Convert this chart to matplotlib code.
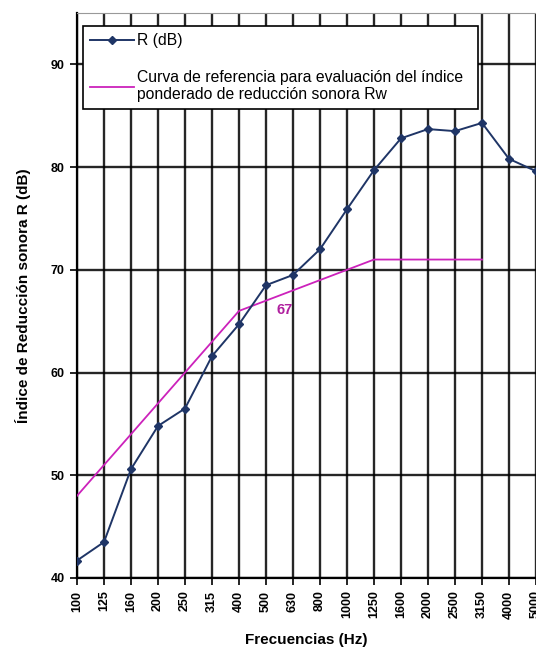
import numpy as np
import matplotlib
matplotlib.use('Agg')
import matplotlib.pyplot as plt

plt.rcParams['font.family'] = ['Liberation Sans', 'DejaVu Sans']

# Data
freqs = ['100', '125', '160', '200', '250', '315', '400', '500', '630', '800',
         '1000', '1250', '1600', '2000', '2500', '3150', '4000', '5000']
r_db = [41.7, 43.5, 50.6, 54.8, 56.5, 61.6, 64.7, 68.5, 69.5, 72.0,
        75.9, 79.7, 82.8, 83.7, 83.5, 84.3, 80.8, 79.6]
ref_curve = [48, 51, 54, 57, 60, 63, 66, 67, 68, 69, 70, 71, 71, 71, 71, 71]
rw_label = '67'

x = np.arange(len(freqs))

fig = plt.figure(figsize=(5.36, 6.51), dpi=100)
ax = fig.add_axes([77/536, 1 - 578/651, 1 - 77/536, (578 - 13)/651])

ax.plot(x, r_db, color='#1f3566', marker='D', markersize=4.5, linewidth=1.4,
        label='R (dB)', zorder=4)
ax.plot(x[:len(ref_curve)], ref_curve, color='#cc22bb', linewidth=1.3,
        label='Curva de referencia para evaluación del índice\nponderado de reducción sonora Rw', zorder=3)
ax.text(x[7] + 0.7, 66.8, rw_label, color='#b0209f', fontsize=10.5, fontweight='bold',
        ha='center', va='top', zorder=5)

ax.set_xlim(0, 16.87)
ax.set_ylim(40, 95)
ax.set_xticks(x)
ax.set_xticklabels(freqs, rotation=90, fontsize=9, fontweight='bold')
ax.set_yticks(np.arange(40, 91, 10))
ax.set_yticklabels([str(v) for v in range(40, 91, 10)], fontsize=9, fontweight='bold')
ax.tick_params(length=5, width=1.2, direction='out', pad=4)

ax.grid(True, color='black', linewidth=1.7, alpha=0.85)
ax.set_axisbelow(True)
for s in ['left', 'bottom']:
    ax.spines[s].set_linewidth(1.6)
ax.spines['top'].set_color('#999999')
ax.spines['right'].set_visible(False)

ax.set_xlabel('Frecuencias (Hz)', fontsize=11, fontweight='bold', labelpad=10)
ax.set_ylabel('Índice de Reducción sonora R (dB)', fontsize=11, fontweight='bold', labelpad=14)

leg = ax.legend(loc='upper left', bbox_to_anchor=(0.013, 0.823, 0.861, 0.154), mode='expand',
                fontsize=11.3, frameon=True, fancybox=False, edgecolor='black',
                framealpha=1, borderaxespad=0, handlelength=2.8, handletextpad=0.2,
                labelspacing=1.4, borderpad=0.45)
leg.get_frame().set_linewidth(1.2)
leg.set_zorder(10)

fig.savefig('out.png', dpi=100)
